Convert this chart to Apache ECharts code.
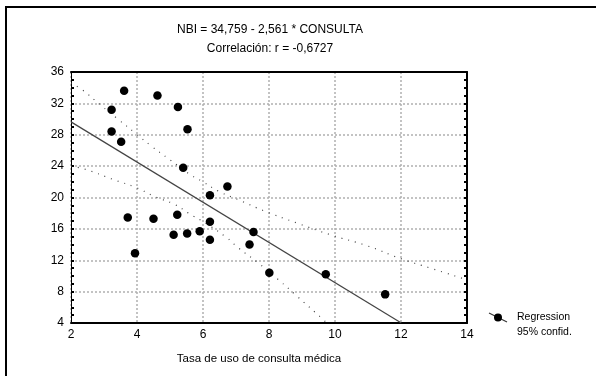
<!DOCTYPE html>
<html>
<head>
<meta charset="utf-8">
<script src="https://cdn.jsdelivr.net/npm/echarts@6/dist/echarts.min.js"></script>
<style>html,body{margin:0;padding:0;background:#fff;}#c{width:596px;height:376px;}</style>
</head>
<body>
<div id="c"></div>
<script>
// Data
const consulta = [3.61, 4.62, 5.24, 3.23, 3.23, 5.53, 3.52, 5.40, 6.74, 6.21, 3.72, 4.50, 5.22, 5.11, 5.52, 5.90, 3.94, 6.21, 6.21, 7.53, 7.41, 8.01, 9.72, 11.52];
const nbi      = [33.6, 33.0, 31.55, 31.2, 28.4, 28.7, 27.1, 23.8, 21.4, 20.3, 17.45, 17.3, 17.8, 15.25, 15.4, 15.7, 12.9, 16.9, 14.6, 15.6, 14.0, 10.4, 10.2, 7.65];
const regX = [2, 12.01];
const regY = [29.64, 4.0];
const upperX = [2.0, 2.35, 2.89, 3.39, 3.95, 4.45, 5.0, 5.62, 6.0, 6.47, 7.08, 7.85, 8.85, 9.86, 10.97, 12.03, 12.89, 14.0];
const upperY = [34.6, 33.7, 31.8, 30.1, 28.2, 26.5, 24.8, 22.9, 22.0, 20.8, 19.7, 18.3, 16.74, 15.25, 13.85, 12.15, 11.0, 9.5];
const lowerX = [2.0, 2.43, 3.34, 3.95, 4.55, 5.16, 5.56, 6.07, 6.68, 7.08, 7.68, 8.29, 8.8, 9.65, 9.75];
const lowerY = [24.0, 23.6, 22.2, 21.3, 20.1, 19.07, 18.0, 16.74, 15.0, 13.55, 11.64, 9.5, 7.6, 4.4, 4.0];
const xTicks = [2, 4, 6, 8, 10, 12, 14];
const yTicks = [4, 8, 12, 16, 20, 24, 28, 32, 36];
const titleLine1 = 'NBI = 34,759 - 2,561 * CONSULTA';
const titleLine2 = 'Correlación: r = -0,6727';
const xTitle = 'Tasa de uso de consulta médica';
const legendLabels = ['Regression', '95% confid.'];

const zip = (a, b) => a.map((v, i) => [v, b[i]]);
const FONT = '"Liberation Sans", Arial, sans-serif';
const gridLine = { show: true, lineStyle: { color: '#b0b0b0', width: 1.5, type: [2, 2] } };

const chart = echarts.init(document.getElementById('c'), null, { renderer: 'canvas' });
chart.setOption({
  animation: false,
  backgroundColor: '#fff',
  grid: { left: 71, right: 129, top: 72, bottom: 53, containLabel: false },
  xAxis: [{
    type: 'value', min: xTicks[0], max: xTicks[xTicks.length - 1], interval: 2,
    axisLine: { show: true, onZero: false, lineStyle: { color: '#000', width: 2 } },
    axisTick: { show: false },
    axisLabel: { color: '#000', fontSize: 12, fontFamily: FONT, margin: 6 },
    splitLine: gridLine
  }, {
    type: 'value', position: 'top', min: xTicks[0], max: xTicks[xTicks.length - 1], interval: 2,
    axisLine: { show: true, lineStyle: { color: '#000', width: 2 } },
    axisTick: { show: false }, axisLabel: { show: false }, splitLine: { show: false }
  }],
  yAxis: [{
    type: 'value', min: yTicks[0], max: yTicks[yTicks.length - 1], interval: 4,
    axisLine: { show: true, onZero: false, lineStyle: { color: '#000', width: 1 } },
    axisTick: { show: true, inside: true, length: 3, lineStyle: { color: '#000', width: 2 } },
    minorTick: { show: true, splitNumber: 4, length: 3, lineStyle: { color: '#000', width: 2 } },
    axisLabel: { color: '#000', fontSize: 12, fontFamily: FONT, margin: 7, showMinLabel: true },
    splitLine: gridLine
  }, {
    type: 'value', position: 'right', min: yTicks[0], max: yTicks[yTicks.length - 1], interval: 4,
    axisLine: { show: true, lineStyle: { color: '#000', width: 2 } },
    axisTick: { show: true, inside: true, length: 3, lineStyle: { color: '#000', width: 2 } },
    minorTick: { show: true, splitNumber: 4, length: 3, lineStyle: { color: '#000', width: 2 } },
    axisLabel: { show: false }, splitLine: { show: false }
  }],
  series: [
    { type: 'line', data: zip(upperX, upperY), smooth: true, showSymbol: false, symbol: 'none',
      lineStyle: { color: '#444', width: 1.2, type: [1, 6] }, clip: true, z: 2 },
    { type: 'line', data: zip(lowerX, lowerY), smooth: true, showSymbol: false, symbol: 'none',
      lineStyle: { color: '#444', width: 1.2, type: [1, 6] }, clip: true, z: 2 },
    { type: 'line', data: zip(regX, regY), showSymbol: false, symbol: 'none',
      lineStyle: { color: '#444', width: 1.2 }, clip: true, z: 3 },
    { type: 'scatter', data: zip(consulta, nbi), symbol: 'circle', symbolSize: 8.5,
      itemStyle: { color: '#000', opacity: 1 }, z: 4 }
  ],
  graphic: [
    { type: 'rect', shape: { x: 6, y: 7, width: 700, height: 500 },
      style: { fill: 'none', stroke: '#000', lineWidth: 2 }, silent: true, z: -1 },
    { type: 'text', x: 270, y: 30, style: { text: titleLine1, fill: '#000', font: '12px ' + FONT, textAlign: 'center', textVerticalAlign: 'middle' } },
    { type: 'text', x: 270, y: 49, style: { text: titleLine2, fill: '#000', font: '12px ' + FONT, textAlign: 'center', textVerticalAlign: 'middle' } },
    { type: 'text', x: 259, y: 359, style: { text: xTitle, fill: '#000', font: '11.5px ' + FONT, textAlign: 'center', textVerticalAlign: 'middle' } },
    { type: 'line', shape: { x1: 489, y1: 313, x2: 507, y2: 322 }, style: { stroke: '#333', lineWidth: 1.2 } },
    { type: 'circle', shape: { cx: 498, cy: 317.5, r: 4 }, style: { fill: '#000' } },
    { type: 'text', x: 517, y: 317.5, style: { text: legendLabels[0], fill: '#000', font: '10.5px ' + FONT, textAlign: 'left', textVerticalAlign: 'middle' } },
    { type: 'text', x: 517, y: 332, style: { text: legendLabels[1], fill: '#000', font: '10.5px ' + FONT, textAlign: 'left', textVerticalAlign: 'middle' } }
  ]
});
</script>
</body>
</html>
